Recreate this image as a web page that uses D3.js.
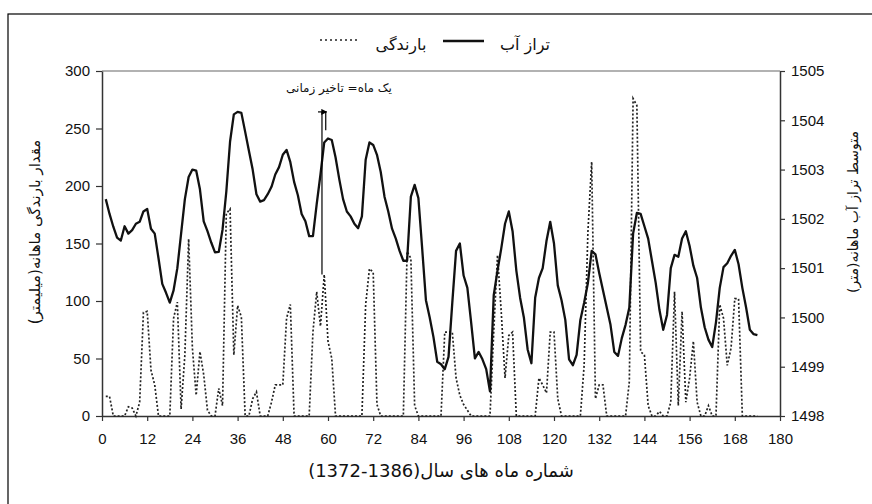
<!DOCTYPE html>
<html>
<head>
<meta charset="utf-8">
<script src="https://cdn.jsdelivr.net/npm/d3@7"></script>
<style>
  body { margin: 0; background: #fff; }
  .tick text { font-family: "Liberation Sans", Arial, sans-serif; font-size: 15px; fill: #111; }
  .fa { font-family: "DejaVu Sans", sans-serif; fill: #111; direction: rtl; }
</style>
</head>
<body>
<svg id="chart" width="872" height="504"></svg>
<script>
// monthly average water level (m), month 1 ..
const waterLevel = [
  1502.4, 1502.1, 1501.84, 1501.62, 1501.56, 1501.85, 1501.7, 1501.77, 1501.9, 1501.94, 1502.15, 1502.2,
  1501.8, 1501.7, 1501.2, 1500.68, 1500.5, 1500.3, 1500.55, 1501.0, 1501.7, 1502.4, 1502.85, 1503.0,
  1502.98, 1502.6, 1501.95, 1501.75, 1501.52, 1501.32, 1501.33, 1501.78, 1502.55, 1503.57, 1504.12, 1504.17,
  1504.15, 1503.77, 1503.38, 1503.0, 1502.5, 1502.35, 1502.38, 1502.5, 1502.65, 1502.9, 1503.05, 1503.3,
  1503.4, 1503.15, 1502.75, 1502.48, 1502.1, 1501.95, 1501.65, 1501.65, 1502.3, 1502.9, 1503.55, 1503.63,
  1503.6, 1503.25, 1502.8, 1502.4, 1502.15, 1502.05, 1501.9, 1501.81, 1502.05, 1503.2, 1503.55, 1503.5,
  1503.3, 1502.95, 1502.45, 1502.15, 1501.8, 1501.6, 1501.35, 1501.15, 1501.15, 1502.45, 1502.69, 1502.42,
  1501.4, 1500.35, 1500.0, 1499.6, 1499.1, 1499.05, 1498.95, 1499.2, 1500.3, 1501.35, 1501.5, 1500.85,
  1500.6, 1499.9, 1499.17, 1499.3, 1499.15, 1498.95, 1498.5, 1500.45, 1500.95, 1501.4, 1501.9, 1502.15,
  1501.75, 1500.95, 1500.4, 1500.0, 1499.35, 1499.07, 1500.4, 1500.8, 1501.0, 1501.55, 1501.94, 1501.5,
  1500.65, 1500.35, 1499.95, 1499.15, 1499.03, 1499.24, 1499.95, 1500.3, 1500.7, 1501.35, 1501.28, 1500.9,
  1500.55, 1500.2, 1499.85, 1499.3, 1499.22, 1499.58, 1499.85, 1500.2, 1501.7, 1502.12, 1502.1, 1501.85,
  1501.6, 1501.15, 1500.7, 1500.15, 1499.75, 1500.05, 1501.0, 1501.27, 1501.23, 1501.6, 1501.75, 1501.45,
  1501.05, 1500.8, 1500.2, 1499.8, 1499.55, 1499.4, 1499.9, 1500.6, 1501.02, 1501.1, 1501.25, 1501.37,
  1501.08, 1500.6, 1500.2, 1499.75, 1499.66, 1499.64
];

// monthly rainfall (mm), month 1 ..
const rainfall = [
  17, 17, 0, 0, 0, 0, 8, 7, 0, 12, 90, 91,
  40, 27, 0, 0, 0, 0, 85, 99, 6, 53, 154, 59,
  18, 56, 36, 5, 0, 0, 24, 9, 176, 180, 53, 96,
  86, 0, 0, 15, 21, 0, 0, 0, 12, 27, 27, 27,
  85, 97, 0, 0, 0, 0, 0, 73, 108, 78, 123, 65,
  50, 0, 0, 0, 0, 0, 0, 0, 0, 97, 128, 125,
  10, 0, 0, 0, 0, 0, 0, 0, 143, 137, 9, 0,
  0, 0, 0, 0, 0, 0, 73, 73, 73, 33, 18, 10,
  5, 0, 0, 0, 0, 0, 0, 73, 140, 90, 33, 70,
  73, 0, 0, 0, 0, 0, 0, 33, 27, 20, 73, 73,
  15, 0, 0, 0, 0, 0, 0, 44, 160, 221, 15, 27,
  27, 0, 0, 0, 0, 0, 0, 30, 276, 270, 56, 53,
  9, 0, 0, 4, 0, 0, 12, 108, 9, 91, 12, 33,
  65, 12, 0, 0, 9, 0, 0, 97, 85, 44, 59, 102,
  102, 0, 0, 0, 0, 0
];

const firstMonth = 1;
const monthTicks = [0, 12, 24, 36, 48, 60, 72, 84, 96, 108, 120, 132, 144, 156, 168, 180];
const rainTicks = [0, 50, 100, 150, 200, 250, 300];
const levelTicks = [1498, 1499, 1500, 1501, 1502, 1503, 1504, 1505];

// one month lag annotation (rain peak -> level peak)
const lagRainMonth = 58.4, lagRainValue = 123;
const lagLevelMonth = 59.4, lagTopLevel = 1504.17, lagEndLevel = 1503.8;

const svg = d3.select("#chart");
const plotLeft = 102, plotRight = 780, plotTop = 71, plotBottom = 416;

const x = d3.scaleLinear().domain([0, 180]).range([plotLeft, plotRight]);
const yRain = d3.scaleLinear().domain([0, 300]).range([plotBottom, plotTop]);
const yLevel = d3.scaleLinear().domain([1498, 1505]).range([plotBottom, plotTop]);

// outer frame (only left/top edges fall inside the picture)
svg.append("rect")
  .attr("x", 8).attr("y", 14).attr("width", 900).attr("height", 520)
  .attr("fill", "none").attr("stroke", "#000").attr("stroke-width", 1.2);

// top border of plot
svg.append("line")
  .attr("x1", plotLeft).attr("x2", plotRight).attr("y1", plotTop).attr("y2", plotTop)
  .attr("stroke", "#999").attr("stroke-width", 1.5);

// axes
svg.append("g")
  .attr("transform", `translate(0,${plotBottom})`)
  .call(d3.axisBottom(x).tickValues(monthTicks).tickSize(5).tickSizeOuter(0).tickPadding(12));

svg.append("g")
  .attr("transform", `translate(${plotLeft},0)`)
  .call(d3.axisLeft(yRain).tickValues(rainTicks).tickSize(6).tickSizeOuter(0).tickPadding(6));

svg.append("g")
  .attr("transform", `translate(${plotRight},0)`)
  .call(d3.axisRight(yLevel).tickValues(levelTicks).tickFormat(d3.format("d"))
    .tickSize(5).tickSizeOuter(0).tickPadding(6));

svg.selectAll(".domain").attr("stroke", "#333").attr("stroke-width", 1.5);
svg.selectAll(".tick line").attr("stroke", "#333").attr("stroke-width", 1.2);

// rainfall (dotted)
const rainLine = d3.line()
  .x((d, i) => x(i + firstMonth))
  .y(d => yRain(d));

svg.append("path")
  .datum(rainfall)
  .attr("d", rainLine)
  .attr("fill", "none")
  .attr("stroke", "#222")
  .attr("stroke-width", 1.7)
  .attr("stroke-dasharray", "2,2");

// water level (solid)
const levelLine = d3.line()
  .x((d, i) => x(i + firstMonth))
  .y(d => yLevel(d));

svg.append("path")
  .datum(waterLevel)
  .attr("d", levelLine)
  .attr("fill", "none")
  .attr("stroke", "#111")
  .attr("stroke-width", 2.3)
  .attr("stroke-linejoin", "round");

// lag annotation
svg.append("defs").append("marker")
  .attr("id", "arrow")
  .attr("viewBox", "0 0 10 10")
  .attr("refX", 9).attr("refY", 5)
  .attr("markerWidth", 5).attr("markerHeight", 5)
  .attr("orient", "auto")
  .append("path").attr("d", "M0,0L10,5L0,10z").attr("fill", "#000");

svg.append("line")
  .attr("x1", x(lagRainMonth)).attr("x2", x(lagRainMonth))
  .attr("y1", yRain(lagRainValue)).attr("y2", yLevel(lagTopLevel))
  .attr("stroke", "#000").attr("stroke-width", 1.2);

svg.append("line")
  .attr("x1", x(lagRainMonth) - 4).attr("x2", x(lagLevelMonth) + 1)
  .attr("y1", yLevel(lagTopLevel)).attr("y2", yLevel(lagTopLevel))
  .attr("stroke", "#000").attr("stroke-width", 1.2)
  .attr("marker-end", "url(#arrow)");

svg.append("line")
  .attr("x1", x(lagLevelMonth)).attr("x2", x(lagLevelMonth))
  .attr("y1", yLevel(lagTopLevel)).attr("y2", yLevel(lagEndLevel))
  .attr("stroke", "#000").attr("stroke-width", 1.2);

svg.append("text")
  .attr("class", "fa")
  .attr("x", 339).attr("y", 92)
  .attr("text-anchor", "middle")
  .attr("font-size", 12)
  .text("یک ماه= تاخیر زمانی");

// legend
svg.append("line")
  .attr("x1", 320).attr("x2", 360).attr("y1", 40).attr("y2", 40)
  .attr("stroke", "#222").attr("stroke-width", 1.6).attr("stroke-dasharray", "2,3");
svg.append("text").attr("class", "fa")
  .attr("x", 401).attr("y", 50).attr("text-anchor", "middle").attr("font-size", 16)
  .text("بارندگی");
svg.append("line")
  .attr("x1", 443).attr("x2", 484).attr("y1", 41).attr("y2", 41)
  .attr("stroke", "#111").attr("stroke-width", 2.3);
svg.append("text").attr("class", "fa")
  .attr("x", 525).attr("y", 50).attr("text-anchor", "middle").attr("font-size", 16)
  .text("تراز آب");

// axis titles
svg.append("text").attr("class", "fa")
  .attr("transform", "translate(40,232) rotate(-90)")
  .attr("text-anchor", "middle").attr("font-size", 15)
  .text("مقدار بارندگی ماهانه(میلیمتر)");

svg.append("text").attr("class", "fa")
  .attr("transform", "translate(858,212) rotate(-90)")
  .attr("text-anchor", "middle").attr("font-size", 14)
  .text("متوسط تراز آب ماهانه(متر)");

svg.append("text").attr("class", "fa")
  .attr("x", 441).attr("y", 477)
  .attr("text-anchor", "middle").attr("font-size", 18)
  .text("شماره ماه های سال(\u20661372-1386\u2069)");
</script>
</body>
</html>
